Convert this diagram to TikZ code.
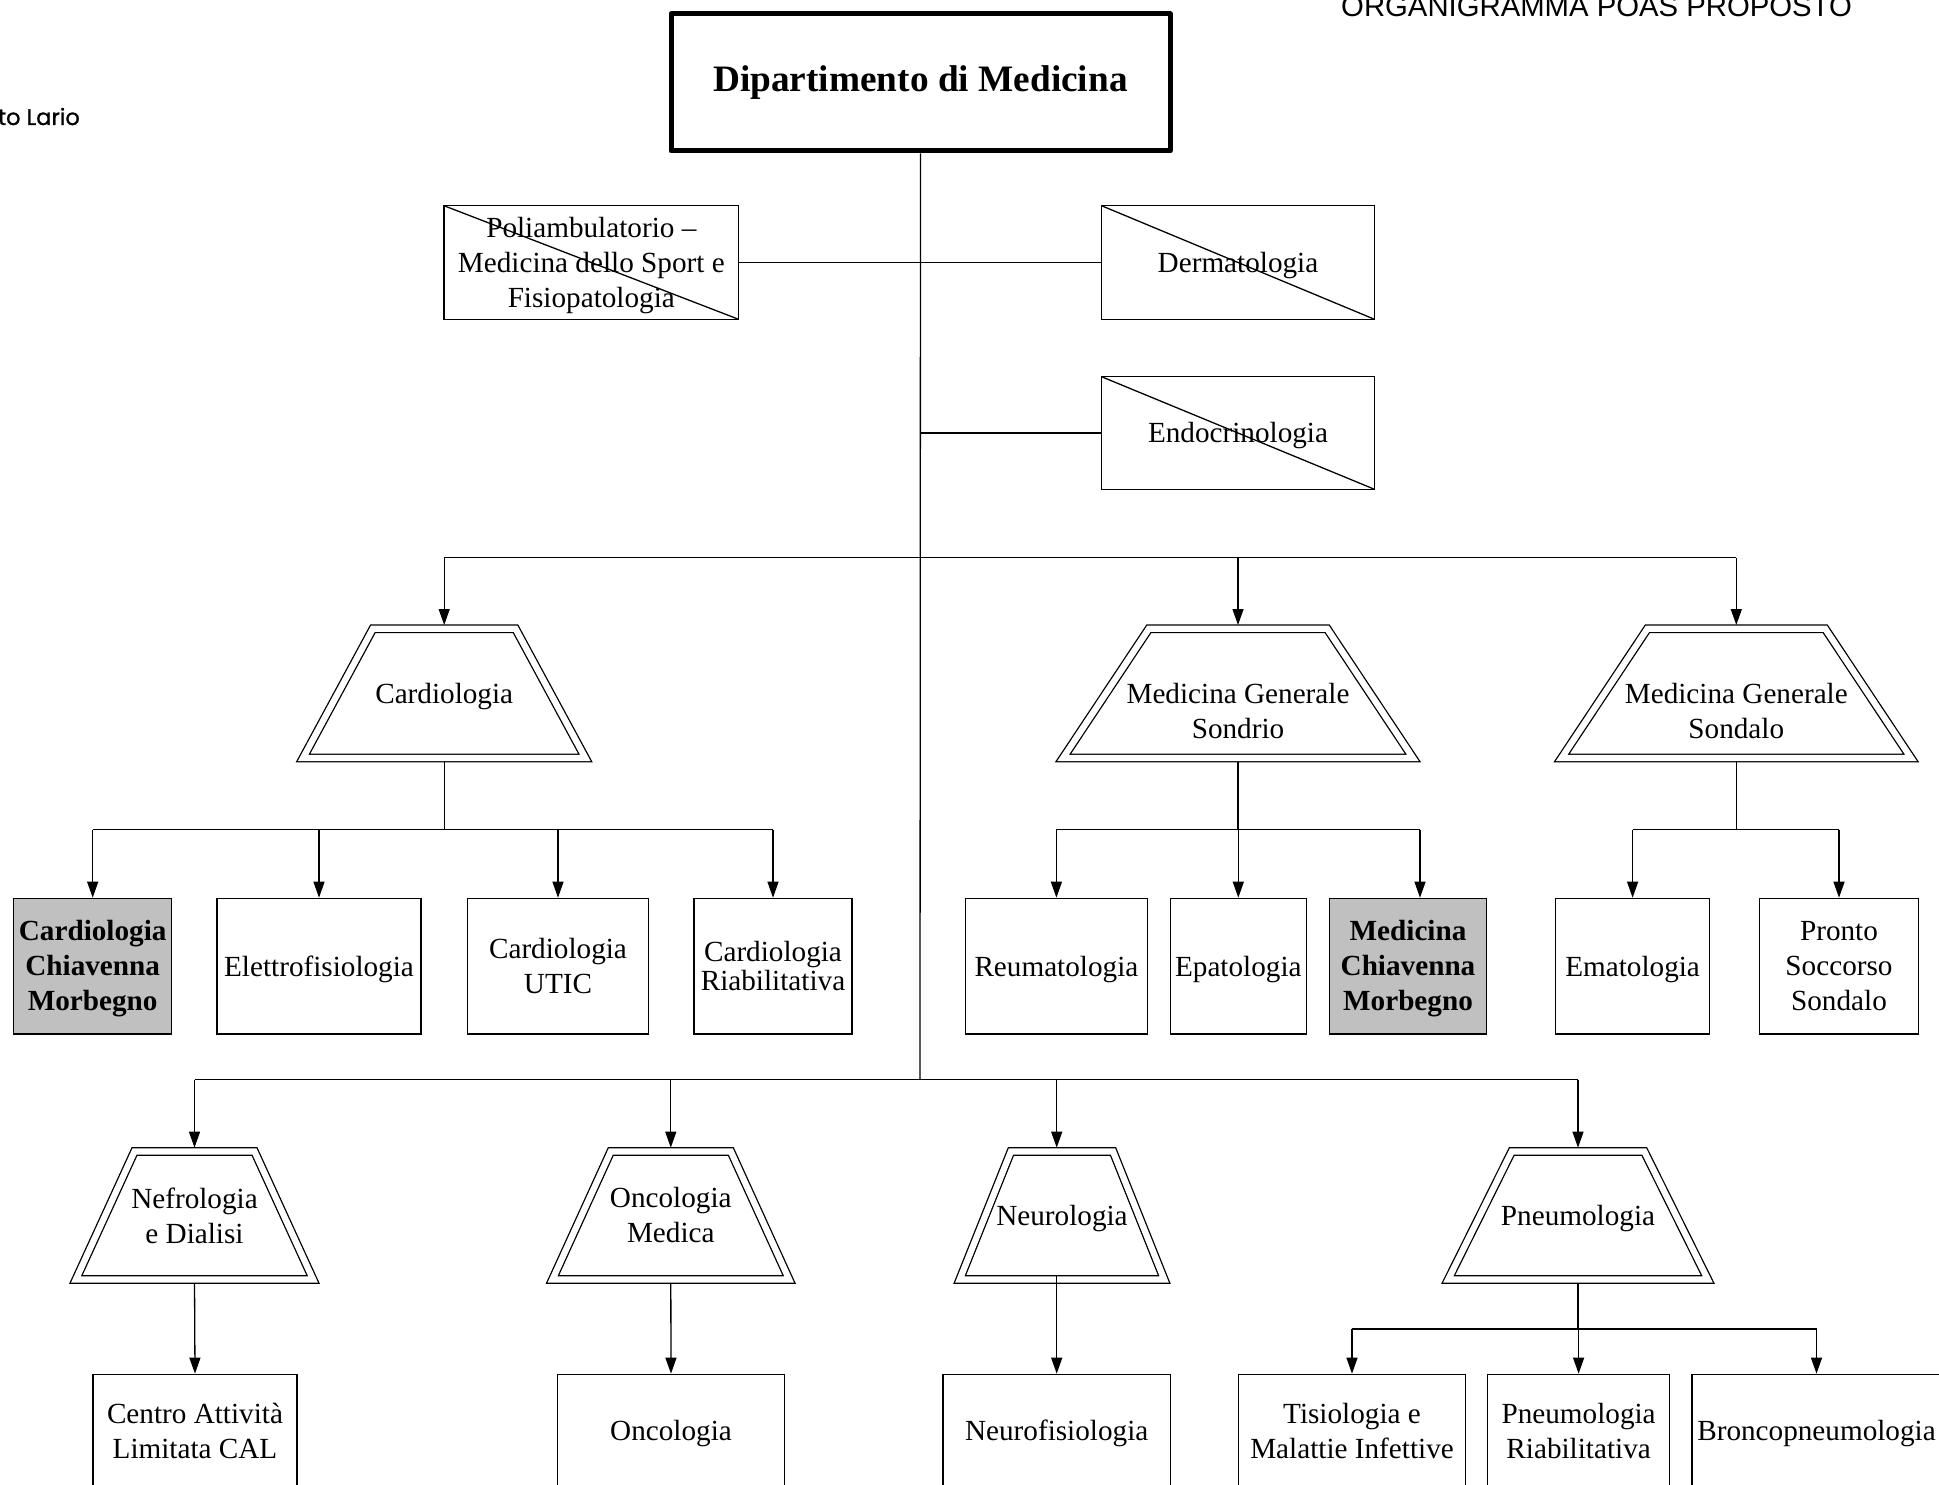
\documentclass[tikz,border=0pt]{standalone}
\usepackage{fontspec}
\setmainfont{Liberation Serif}
\newfontfamily\headsans{Liberation Sans}
\newfontfamily\logosans{Poppins}[FakeBold=1]
\usetikzlibrary{arrows.meta,calc}
\definecolor{boxgray}{RGB}{192,192,192}
% raises the first line of a multi-line label
\newcommand\firstline[1]{\rule{0pt}{#1}}

\tikzset{
  txt/.style={font=\fontsize{29.2}{35}\selectfont, align=center},
  oneline/.style={execute at begin node={\rule{0pt}{0.891em}},
    execute at end node={\rule[-0.216em]{0pt}{0.216em}}},
  ubox/.style={txt, draw, line width=1.3pt, inner sep=0pt, minimum width=#1},
  lvtwo/.style={ubox=#1, minimum height=135.7pt},
  lvfour/.style={ubox=#1, minimum height=113.4pt},
  hilite/.style={fill=boxgray, font=\fontsize{29.2}{35}\selectfont\bfseries},
  crossed/.style={ubox=#1, minimum height=113.6pt,
    path picture={\draw[line width=1.3pt] (path picture bounding box.north west) -- (path picture bounding box.south east);}},
  trapbody/.style={txt, inner sep=0pt, outer sep=0pt},
  dblline/.style={draw, double, double distance=6.2pt, line width=1.3pt},
  conn/.style={line width=1.3pt},
  arr/.style={conn, -{Triangle[width=11pt,length=16pt]}},
  arrtrap/.style={arr, shorten >=3.8pt},
  fromtrap/.style={shorten <=3.8pt},
}

% complex unit: a double-lined trapezium around a named node
% #1 node options, #2 name, #3 centre, #4 bottom width, #5 height, #6 top inset, #7 text
\newcommand\trapunit[7]{%
  \node[trapbody, minimum width=#4, minimum height=#5, #1] (#2) at #3 {#7};
  \draw[dblline] (#2.south west) -- ([xshift=#6]#2.north west)
    -- ([xshift=-#6]#2.north east) -- (#2.south east) -- cycle;}

\begin{document}
\begin{tikzpicture}[x=1pt,y=-1pt]
\useasboundingbox (0,0) rectangle (1939,1485);

% header texts
\node[anchor=base west, inner sep=0pt, font=\headsans\fontsize{29.3}{35}\selectfont] (heading) at (1341,17) {ORGANIGRAMMA POAS PROPOSTO};
\node[anchor=base east, inner sep=0pt, font=\logosans\fontsize{22.5}{26}\selectfont] (logo) at (80,125) {to Lario};

% department
\node[draw, line width=5pt, line join=round, minimum width=499pt, minimum height=137pt, inner sep=0pt,
      font=\fontsize{37.3}{44}\selectfont\bfseries] (dept) at (920.5,82.5) {Dipartimento di Medicina};

% staff units
\node[crossed=294.6pt] (polia) at (591.3,262.5) {\firstline{27pt}Poliambulatorio --\\Medicina dello Sport e\\Fisiopatologia};
\node[crossed=273pt, oneline] (derm) at (1238,262.5) {Dermatologia};
\node[crossed=273pt, oneline, minimum height=112.6pt] (endo) at (1238,433) {Endocrinologia};

% first row of complex units
\trapunit{oneline}{card}{(444.2,693.4)}{282.4pt}{129.2pt}{69.86pt}{Cardiologia}
\trapunit{label={[txt, yshift=-18pt]center:Medicina Generale\\Sondrio}}{sondrio}{(1238,693.4)}{350pt}{129.2pt}{85.84pt}{}
\trapunit{label={[txt, yshift=-18pt]center:Medicina Generale\\Sondalo}}{sondalo}{(1736.3,693.4)}{349.5pt}{129.2pt}{85.84pt}{}

% second row units
\node[lvtwo=157.8pt, hilite] (ccm) at (92.7,966.2) {\firstline{26pt}Cardiologia\\Chiavenna\\Morbegno};
\node[lvtwo=203.8pt, oneline] (elettro) at (319,966.2) {Elettrofisiologia};
\node[lvtwo=181.4pt] (utic) at (558,966.2) {Cardiologia\\UTIC};
\node[lvtwo=158pt, font=\fontsize{29.2}{28.5}\selectfont] (riab) at (773,966.2) {Cardiologia\\Riabilitativa};
\node[lvtwo=181.6pt, oneline] (reuma) at (1056.4,966.2) {Reumatologia};
\node[lvtwo=135.8pt, oneline] (epato) at (1238.3,966.2) {Epatologia};
\node[lvtwo=157.1pt, hilite] (mcm) at (1408,966.2) {\firstline{26pt}Medicina\\Chiavenna\\Morbegno};
\node[lvtwo=154.4pt, oneline] (emato) at (1632.6,966.2) {Ematologia};
\node[lvtwo=159.1pt] (pronto) at (1839,966.2) {Pronto\\Soccorso\\Sondalo};

% third row of complex units
\trapunit{}{nefro}{(194.5,1215.5)}{237.3pt}{128.1pt}{58.65pt}{Nefrologia\\e Dialisi}
\trapunit{}{oncmed}{(670.8,1215.5)}{236.8pt}{128.1pt}{58.38pt}{Oncologia\\Medica}
\trapunit{oneline}{neuro}{(1062,1215.5)}{204.6pt}{128.1pt}{51.24pt}{Neurologia}
\trapunit{oneline}{pneumo}{(1578,1215.5)}{259.7pt}{128.1pt}{63.59pt}{Pneumologia}

% bottom row units
\node[lvfour=203.8pt] (cal) at (195,1431) {Centro Attività\\Limitata CAL};
\node[lvfour=227.3pt, oneline] (onco) at (671,1431) {Oncologia};
\node[lvfour=227.4pt, oneline] (neurofis) at (1056.7,1431) {Neurofisiologia};
\node[lvfour=226.7pt] (tisio) at (1352,1431) {Tisiologia e\\Malattie Infettive};
\node[lvfour=181.6pt] (pneuriab) at (1578.6,1431) {Pneumologia\\Riabilitativa};
\node[lvfour=249pt, oneline] (bronco) at (1816.5,1431) {Broncopneumologia};

% trunk and staff links
\coordinate (hubone) at (920,557.5);
\coordinate (hubthree) at (920,1079.5);
\draw[conn] (dept.south) -- (hubthree);
\draw[conn] (polia.east) -- (derm.west);
\draw[conn] (dept.south |- endo.west) -- (endo.west);

% first branch
\draw[conn] (card.north |- hubone) -- (sondalo.north |- hubone);
\foreach \u in {card,sondrio,sondalo}
  \draw[arrtrap] (\u.north |- hubone) -- (\u.north);

% cardiologia children
\draw[conn, fromtrap] (card.south) -- (card.south |- 0,829.5);
\draw[conn] (ccm.north |- 0,829.5) -- (riab.north |- 0,829.5);
\foreach \u in {ccm,elettro,utic,riab}
  \draw[arr] (\u.north |- 0,829.5) -- (\u.north);

% medicina generale sondrio children
\coordinate (mcmin) at ([xshift=12pt]mcm.north);
\draw[conn, fromtrap] (sondrio.south) -- (sondrio.south |- 0,829.5);
\draw[conn] (reuma.north |- 0,829.5) -- (mcmin |- 0,829.5);
\draw[arr] (reuma.north |- 0,829.5) -- (reuma.north);
\draw[arr] (epato.north |- 0,829.5) -- (epato.north);
\draw[arr] (mcmin |- 0,829.5) -- (mcmin);

% medicina generale sondalo children
\draw[conn, fromtrap] (sondalo.south) -- (sondalo.south |- 0,829.5);
\draw[conn] (emato.north |- 0,829.5) -- (pronto.north |- 0,829.5);
\draw[arr] (emato.north |- 0,829.5) -- (emato.north);
\draw[arr] (pronto.north |- 0,829.5) -- (pronto.north);

% second branch
\draw[conn] (nefro.north |- hubthree) -- (pneumo.north |- hubthree);
\draw[arrtrap] (nefro.north |- hubthree) -- (nefro.north);
\draw[arrtrap] (oncmed.north |- hubthree) -- (oncmed.north);
\draw[arrtrap] (neurofis.north |- hubthree) -- (neurofis.north |- neuro.north);
\draw[arrtrap] (pneumo.north |- hubthree) -- (pneumo.north);

% third row children
\draw[arr, fromtrap] (nefro.south) -- (cal.north);
\draw[arr, fromtrap] (oncmed.south) -- (onco.north);
\draw[arr, shorten <=-3.8pt] (neurofis.north |- neuro.south) -- (neurofis.north);
\draw[conn, fromtrap] (pneumo.south) -- (pneumo.south |- 0,1329);
\draw[conn] (tisio.north |- 0,1329) -- (bronco.north |- 0,1329);
\foreach \u in {tisio,pneuriab,bronco}
  \draw[arr] (\u.north |- 0,1329) -- (\u.north);
\end{tikzpicture}
\end{document}
